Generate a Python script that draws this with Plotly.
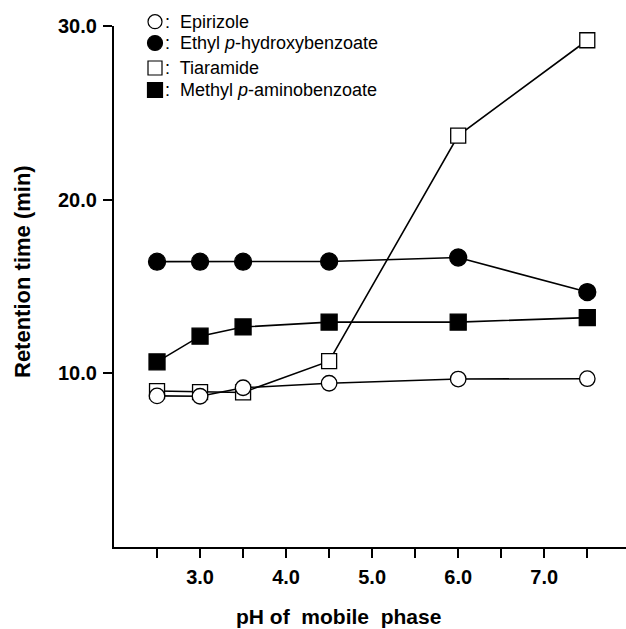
import plotly.graph_objects as go

# ---- data ----
ph = [2.5, 3.0, 3.5, 4.5, 6.0, 7.5]
epirizole = [8.70, 8.68, 9.17, 9.43, 9.67, 9.69]
ethyl_phb = [16.43, 16.43, 16.43, 16.44, 16.67, 14.68]
tiaramide = [8.98, 8.92, 8.90, 10.70, 23.69, 29.18]
methyl_pab = [10.66, 12.14, 12.67, 12.95, 12.95, 13.21]

x_tick_vals = [2.5, 3.0, 3.5, 4.0, 4.5, 5.0, 5.5, 6.0, 6.5, 7.0, 7.5]
x_tick_text = ["", "3.0", "", "4.0", "", "5.0", "", "6.0", "", "7.0", ""]
y_tick_vals = [10, 20, 30]
y_tick_text = ["10.0", "20.0", "30.0"]

legend_names = ["Epirizole", "Ethyl <i>p</i>-hydroxybenzoate", "Tiaramide",
                "Methyl <i>p</i>-aminobenzoate"]

FONT = "Liberation Sans, Arial, Helvetica, sans-serif"

fig = go.Figure()

def add_series(y, symbol, fill, size):
    fig.add_trace(go.Scatter(
        x=ph, y=y, mode="lines+markers",
        line=dict(color="black", width=1.6),
        marker=dict(symbol=symbol, size=size, color=fill,
                    line=dict(color="black", width=1.3)),
        showlegend=False, cliponaxis=False))

add_series(methyl_pab, "square", "black", 16)
add_series(ethyl_phb, "circle", "black", 17)
add_series(tiaramide, "square", "white", 15)
add_series(epirizole, "circle", "white", 15.5)

# ---- layout geometry ----
W, H = 626, 629
L, R, T, B = 114, 0, 26, 82
pw, ph_px = W - L - R, H - T - B

def px_to_paper_x(px):
    return (px - L) / pw

def px_to_paper_y(py):
    return (H - B - py) / ph_px

# legend drawn as shapes + annotations
legend_rows = [21.7, 43.0, 68.0, 90.0]
legend_kinds = [("circle", "white", 7), ("circle", "black", 7.5),
                ("rect", "white", 7), ("rect", "black", 7.5)]
shapes = []
annotations = []
for name, py, (kind, fill, r) in zip(legend_names, legend_rows, legend_kinds):
    shapes.append(dict(
        type=kind, xref="paper", yref="paper",
        xsizemode="pixel", ysizemode="pixel",
        xanchor=px_to_paper_x(155), yanchor=px_to_paper_y(py),
        x0=-r, x1=r, y0=-r, y1=r,
        fillcolor=fill, line=dict(color="black", width=1.2)))
    annotations.append(dict(
        xref="paper", yref="paper", x=px_to_paper_x(163), y=px_to_paper_y(py),
        xanchor="left", yanchor="middle", showarrow=False,
        text=":&nbsp; " + name,
        font=dict(family=FONT, size=18, color="black")))

# axis titles
annotations.append(dict(
    xref="paper", yref="paper", x=px_to_paper_x(22), y=px_to_paper_y(272),
    xanchor="center", yanchor="middle", showarrow=False, textangle=-90,
    text="<b>Retention time (min)</b>",
    font=dict(family=FONT, size=22, color="black")))
annotations.append(dict(
    xref="paper", yref="paper", x=px_to_paper_x(338), y=px_to_paper_y(616),
    xanchor="center", yanchor="middle", showarrow=False,
    text="<b>pH of&nbsp; mobile&nbsp; phase</b>",
    font=dict(family=FONT, size=21, color="black")))

fig.update_layout(
    width=W, height=H,
    margin=dict(l=L, r=R, t=T, b=B, pad=0, autoexpand=False),
    paper_bgcolor="white", plot_bgcolor="white",
    font=dict(family=FONT, color="black"),
    shapes=shapes, annotations=annotations,
    showlegend=False,
)
fig.update_xaxes(
    range=[2.0, 7.95], showgrid=False, zeroline=False, automargin=False,
    showline=True, linecolor="black", linewidth=2.2,
    ticks="outside", ticklen=9, tickwidth=2, tickcolor="black",
    tickvals=x_tick_vals, ticktext=x_tick_text,
    tickfont=dict(family=FONT, size=20, color="black", weight="bold"),
    ticklabelstandoff=2,
)
fig.update_yaxes(
    range=[0, 30], showgrid=False, zeroline=False, automargin=False,
    showline=True, linecolor="black", linewidth=2.2,
    ticks="outside", ticklen=9, tickwidth=2, tickcolor="black",
    tickvals=y_tick_vals, ticktext=y_tick_text,
    tickfont=dict(family=FONT, size=20, color="black", weight="bold"),
    ticklabelstandoff=2,
)

fig.write_html(
    "out.html",
    config={"displayModeBar": False},
    post_script="document.body.style.margin='0px';document.body.style.overflow='hidden';",
)
